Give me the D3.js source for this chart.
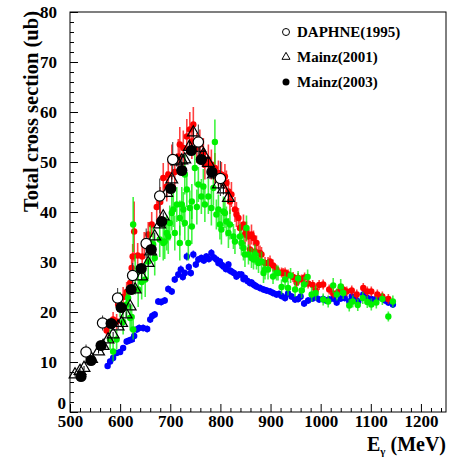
<!DOCTYPE html>
<html><head><meta charset="utf-8">
<script src="https://cdn.jsdelivr.net/npm/d3@7"></script>
<style>body{margin:0;background:#fff}svg{display:block}text{font-family:"Liberation Serif","Times New Roman",serif;font-weight:bold}</style>
</head><body>
<svg id="c" width="450" height="457"></svg>
<script>
// ---- data: [E (MeV), sigma (ub), error] ----
const xTicks = [500,600,700,800,900,1000,1100,1200];
const yTicks = [0,10,20,30,40,50,60,70,80];
const legendLabels = ["DAPHNE(1995)","Mainz(2001)","Mainz(2003)"];

const blueData = [
[575,9.2,0.6],[580,10.1,0.6],[586,10.8,0.6],[593,11.8,0.6],[600,12.0,0.6],[606,12.8,0.6],[613,14.1,0.7],[618,14.3,0.7],[623,14.5,0.7],[628,15.2,1.2],
[633,16.5,0.7],[638,16.8,0.7],[646,16.8,0.7],[654,16.6,0.7],[660,18.5,0.7],[664,19.2,0.7],[669,19.5,0.7],[676,22.1,0.7],[682,22.0,0.7],[689,22.3,0.7],
[696,24.6,0.7],[703,24.1,0.7],[709,26.5,0.7],[716,27.5,0.7],[721,28.5,0.8],[725,27.0,0.7],[729,27.8,0.7],[733,31.1,0.8],[737,29.0,0.7],[741,27.8,0.7],
[746,31.5,0.8],[751,29.5,0.7],[756,30.5,0.7],[762,30.8,0.7],[767,30.3,0.7],[772,31.1,0.7],[777,30.6,0.7],[782,31.8,0.8],[787,30.9,0.7],[792,30.5,0.7],
[796,29.8,0.7],[799,30.1,0.7],[803,29.4,0.7],[806,29.1,0.7],[811,28.6,0.7],[816,29.5,0.7],[819,28.3,0.7],[822,28.1,0.7],[827,27.8,0.7],[832,27.1,0.7],
[837,27.5,0.7],[842,27.5,0.7],[846,26.6,0.7],[849,26.8,0.7],[854,26.2,0.7],[859,25.8,0.7],[862,25.9,0.7],[866,25.5,0.7],[869,25.3,0.7],[872,25.1,0.7],
[879,24.8,0.7],[886,24.5,0.7],[892,24.3,0.7],[899,24.1,0.7],[905,23.8,0.7],[912,23.5,0.7],[917,23.6,0.7],[922,23.2,0.7],[929,22.8,0.7],[935,23.7,0.7],
[942,23.1,0.7],[949,22.5,0.7],[955,22.6,0.7],[960,23.1,0.7],[967,21.7,0.7],[975,22.3,0.7],[984,22.7,0.7],[990,23.0,0.7],[997,22.5,0.7],[1005,22.6,0.7],
[1011,22.3,0.7],[1017,22.5,0.7],[1025,22.7,0.7],[1032,21.9,0.7],[1040,22.7,0.7],[1048,22.8,0.7],[1057,22.1,0.7],[1062,23.1,0.7],[1069,23.0,0.7],[1075,22.1,0.7],
[1085,23.5,0.7],[1093,22.8,0.7],[1101,22.6,0.7],[1107,22.4,0.7],[1113,22.8,0.7],[1123,22.8,0.7],[1129,22.3,0.7],[1135,21.9,0.7],[1144,21.5,0.7]
];

const redData = [
[573,16.3,1.2],[586,18.5,1.5],[593,18.1,1.5],[596,21.5,1.5],[606,23.0,2.0],[613,24.0,2.0],[620,25.8,2.0],[623,28.8,2.5],[625,31.1,2.5],[628,36.1,6.0],
[635,31.3,2.5],[644,31.1,2.5],[648,33.5,2.5],[656,35.5,2.5],[663,37.5,2.5],[673,41.0,3.0],[680,42.0,3.0],[686,46.8,3.0],[693,45.1,3.0],[696,47.5,3.0],
[703,50.0,3.5],[709,48.0,3.5],[716,51.1,3.5],[719,53.5,3.5],[726,52.8,3.5],[733,55.1,3.5],[739,56.5,3.5],[743,54.1,3.5],[746,57.5,3.5],[753,52.8,3.0],
[759,53.5,3.0],[766,51.8,3.0],[769,49.5,3.0],[776,50.5,3.0],[782,49.5,3.0],[789,48.8,3.0],[796,47.8,2.5],[802,47.5,2.5],[809,47.1,2.5],[812,45.8,2.5],
[816,44.1,2.5],[819,42.1,2.5],[822,43.5,2.5],[829,40.5,2.5],[832,39.5,2.5],[836,38.8,2.0],[839,36.8,2.0],[846,37.5,2.0],[849,35.5,2.0],[852,36.1,2.0],
[856,35.1,2.0],[859,32.5,2.0],[862,35.5,2.0],[866,34.8,1.5],[869,32.1,1.5],[872,33.8,1.5],[876,31.8,1.5],[879,31.8,1.5],[882,31.5,1.5],[889,29.8,1.2],
[895,29.8,1.2],[899,30.1,1.2],[905,29.3,1.2],[912,28.5,1.0],[922,27.9,1.0],[925,27.8,1.0],[929,27.9,1.0],[935,27.5,1.0],[945,27.0,1.0],[952,25.9,1.0],
[955,26.8,1.0],[962,26.5,1.0],[968,26.9,1.0],[975,25.7,1.0],[984,25.4,1.0],[990,24.3,1.0],[997,25.4,1.0],[1005,25.5,1.0],[1017,24.5,1.0],[1025,23.7,1.0],
[1035,24.0,1.0],[1045,24.5,1.0],[1052,24.1,1.0],[1062,24.3,1.0],[1072,23.5,1.0],[1085,24.8,1.0],[1093,24.1,1.0],[1101,24.1,1.0],[1113,23.5,1.0],[1123,23.1,1.0],
[1135,22.6,1.0]
];

const greenData = [
[580,14.5,2.0],[586,12.1,2.0],[593,14.5,2.0],[600,21.5,2.5],[606,18.0,2.5],[613,21.5,2.5],[616,22.8,2.5],[620,18.8,2.5],[623,19.0,2.5],[626,16.5,2.0],
[626,37.5,5.5],[630,27.5,4.0],[636,24.5,3.5],[643,26.0,3.5],[650,26.5,3.5],[656,30.1,3.5],[660,33.8,3.5],[666,33.5,3.5],[669,30.8,3.5],[679,34.5,3.5],
[686,33.8,3.5],[689,34.1,3.5],[693,35.8,3.5],[696,35.1,3.5],[699,37.8,3.5],[703,39.8,3.5],[706,40.5,3.5],[709,35.8,3.5],[713,41.5,3.5],[719,38.8,3.5],
[719,33.8,3.5],[723,41.5,3.5],[726,40.5,3.5],[729,47.5,4.0],[729,37.8,3.5],[733,44.5,3.5],[736,33.8,3.5],[739,40.8,3.5],[743,42.1,3.5],[743,37.1,3.5],
[749,48.8,3.5],[753,41.0,3.5],[756,45.5,3.5],[762,43.1,3.5],[766,45.1,3.5],[769,41.5,3.5],[776,43.1,3.5],[782,40.8,3.5],[786,44.8,3.5],[789,54.0,4.5],
[792,39.5,3.0],[796,40.5,3.0],[799,37.5,3.0],[802,36.5,3.0],[806,40.1,3.0],[809,39.8,3.0],[812,38.1,3.0],[816,35.8,3.0],[819,37.5,3.0],[826,35.1,2.5],
[829,34.1,2.5],[839,35.1,2.5],[842,33.8,2.5],[846,32.8,2.5],[849,31.5,2.5],[852,36.8,2.5],[856,31.5,2.0],[862,30.8,2.0],[866,30.5,2.0],[869,31.5,2.0],
[872,30.5,2.0],[876,29.8,2.0],[882,30.1,2.0],[886,27.8,2.0],[889,28.5,2.0],[895,28.5,2.0],[905,27.1,1.5],[912,27.8,1.5],[915,27.8,1.5],[922,25.0,1.5],
[929,26.5,1.5],[935,24.8,1.5],[940,27.3,1.5],[949,24.5,1.5],[955,26.7,1.5],[962,24.3,1.5],[967,25.5,1.5],[974,27.0,1.5],[982,23.5,1.5],[990,23.8,1.5],
[1005,22.5,1.2],[1015,22.1,1.2],[1025,25.3,1.5],[1032,23.5,1.2],[1040,25.1,1.5],[1045,23.8,1.2],[1057,21.3,1.2],[1064,22.1,1.2],[1074,21.4,1.2],[1084,22.8,1.2],
[1093,22.0,1.2],[1101,21.5,1.2],[1111,21.9,1.2],[1123,22.6,1.2],[1135,19.1,1.0],[1144,22.1,1.2]
];

// Mainz(2001) open triangles: [E, sigma, err]
const mainz2001 = [
[510,7.5,0.4],[520,8.2,0.4],[528,8.8,0.4],[543,10.6,0.4],[557,12.1,0.4],[566,13.2,0.5],[576,14.5,0.5],[586,15.5,0.5],[596,17.1,0.5],[603,17.8,0.5],
[612,19.5,0.6],[620,21.1,0.6],[630,24.5,0.6],[643,27.1,0.7],[656,29.8,0.7],[661,32.1,0.7],[669,35.1,0.8],[679,37.5,0.8],[686,39.1,0.8],[693,43.8,0.9],
[703,46.5,0.9],[713,50.1,1.0],[723,50.3,1.0],[729,50.5,1.0],[738,53.0,1.0],[746,55.9,1.0],[759,52.8,1.0],[766,51.5,1.0],[776,49.8,1.0],[786,47.5,1.0],
[796,45.5,1.0],[806,44.5,1.0],[816,42.8,1.0]
];

// Mainz(2003) filled circles: [E, sigma, err]
const mainz2003 = [
[522,7.1,0.3],[542,10.3,0.4],[562,13.3,0.4],[582,17.7,0.5],[602,20.9,0.5],[622,24.5,0.6],[642,28.7,0.7],[662,32.5,0.7],[683,38.1,0.8],[701,44.7,0.9],
[723,48.3,1.0],[742,52.3,1.0],[762,50.5,1.0],[783,48.0,1.0]
];

// DAPHNE(1995) open circles: [E, sigma, xerr, yerr]
const daphne = [
[532,12.0,7,1.5],[565,17.8,7,1.5],[595,22.8,7,2.0],[625,27.3,7,2.5],[652,33.7,7,3.0],[679,43.2,7,3.5],[705,50.5,7,3.5],[756,54.0,7,3.5],[800,46.7,7,3.5]
];

// ---- drawing ----
const L = 70, R = 446, T = 12, B = 412;
const svg = d3.select("#c");
const x = d3.scaleLinear().domain([500,1250]).range([L,R]);
const y = d3.scaleLinear().domain([0,80]).range([B,T]);

// frame
svg.append("rect").attr("x",L).attr("y",T).attr("width",R-L).attr("height",B-T)
  .attr("fill","none").attr("stroke","#000").attr("stroke-width",1);

// axes with inside ticks
const xMinor = d3.range(500,1251,20).filter(v=>v%100!==0);
const yMinor = d3.range(0,81,2).filter(v=>v%10!==0);
const gx = svg.append("g").attr("transform",`translate(0,${B})`);
gx.call(d3.axisBottom(x).tickValues(xTicks).tickSize(-8).tickFormat(d3.format("d")).tickPadding(3));
gx.append("g").call(d3.axisBottom(x).tickValues(xMinor).tickSize(-4).tickFormat(""));
const gy = svg.append("g").attr("transform",`translate(${L},0)`);
gy.call(d3.axisLeft(y).tickValues(yTicks).tickSize(-8).tickFormat(d3.format("d")).tickPadding(13));
gy.append("g").call(d3.axisLeft(y).tickValues(yMinor).tickSize(-4).tickFormat(""));
svg.selectAll(".domain").remove();
svg.selectAll(".tick line").attr("stroke","#000").attr("stroke-width",1);
svg.selectAll(".tick text").attr("fill","#000").style("font-size","17px")
  .style("font-family","'Liberation Serif',serif").style("font-weight","bold");
// ROOT-style: the "0" label sits close to the corner
gy.selectAll(".tick").filter(d=>d===0).select("text").attr("x",-4).attr("dy","-0.2em");

// axis titles
const xt = svg.append("text").attr("x",R).attr("y",451).attr("text-anchor","end").style("font-size","20px");
xt.append("tspan").text("E");
xt.append("tspan").attr("dy",4).style("font-size","11px").text("γ");
xt.append("tspan").attr("dy",-4).text(" (MeV)");
svg.append("text").attr("transform",`translate(38,11) rotate(-90)`).attr("text-anchor","end")
  .style("font-size","20.5px").text("Total cross section (ub)");

// colored series
function colored(data, col){
  const g = svg.append("g");
  g.selectAll("line").data(data).join("line")
    .attr("x1",d=>x(d[0])).attr("x2",d=>x(d[0]))
    .attr("y1",d=>y(d[1]-d[2])).attr("y2",d=>y(d[1]+d[2]))
    .attr("stroke",col).attr("stroke-width",1.6).attr("stroke-opacity",0.75);
  g.selectAll("circle").data(data).join("circle")
    .attr("cx",d=>x(d[0])).attr("cy",d=>y(d[1])).attr("r",3.2).attr("fill",col);
}
colored(blueData,"#0000ff");
colored(redData,"#ff0000");
colored(greenData,"#00f000");

// Mainz 2001 triangles
const tri = d3.symbol().type(d3.symbolTriangle).size(60);
const g1 = svg.append("g");
g1.selectAll("line").data(mainz2001).join("line")
  .attr("x1",d=>x(d[0])).attr("x2",d=>x(d[0]))
  .attr("y1",d=>y(d[1]-d[2])).attr("y2",d=>y(d[1]+d[2])).attr("stroke","#000");
g1.selectAll("path").data(mainz2001).join("path").attr("d",tri)
  .attr("transform",d=>`translate(${x(d[0])},${y(d[1])})`)
  .attr("fill","none").attr("stroke","#000").attr("stroke-width",1.2);

// DAPHNE open circles
const g0 = svg.append("g");
g0.selectAll("line.v").data(daphne).join("line").attr("class","v")
  .attr("x1",d=>x(d[0])).attr("x2",d=>x(d[0]))
  .attr("y1",d=>y(d[1]-d[3])).attr("y2",d=>y(d[1]+d[3])).attr("stroke","#333");
g0.selectAll("line.h").data(daphne).join("line").attr("class","h")
  .attr("x1",d=>x(d[0]-d[2])).attr("x2",d=>x(d[0]+d[2]))
  .attr("y1",d=>y(d[1])).attr("y2",d=>y(d[1])).attr("stroke","#333");
g0.selectAll("circle").data(daphne).join("circle")
  .attr("cx",d=>x(d[0])).attr("cy",d=>y(d[1])).attr("r",5.2)
  .attr("fill","#fff").attr("stroke","#000").attr("stroke-width",1.2);

// Mainz 2003 filled circles
const g2 = svg.append("g");
g2.selectAll("line").data(mainz2003).join("line")
  .attr("x1",d=>x(d[0])).attr("x2",d=>x(d[0]))
  .attr("y1",d=>y(d[1]-d[2])).attr("y2",d=>y(d[1]+d[2])).attr("stroke","#000");
g2.selectAll("circle").data(mainz2003).join("circle")
  .attr("cx",d=>x(d[0])).attr("cy",d=>y(d[1])).attr("r",5.6).attr("fill","#000");

// legend
const lg = svg.append("g");
const ly = [32,57,82];
lg.append("circle").attr("cx",286).attr("cy",ly[0]).attr("r",3.5).attr("fill","none").attr("stroke","#000");
lg.append("path").attr("d",d3.symbol().type(d3.symbolTriangle).size(28))
  .attr("transform",`translate(286,${ly[1]})`).attr("fill","none").attr("stroke","#000");
lg.append("circle").attr("cx",286).attr("cy",ly[2]).attr("r",3.5).attr("fill","#000");
lg.selectAll("text").data(legendLabels).join("text")
  .attr("x",297).attr("y",(d,i)=>ly[i]).attr("dy","0.35em").style("font-size","15px").text(d=>d);
</script>
</body></html>
